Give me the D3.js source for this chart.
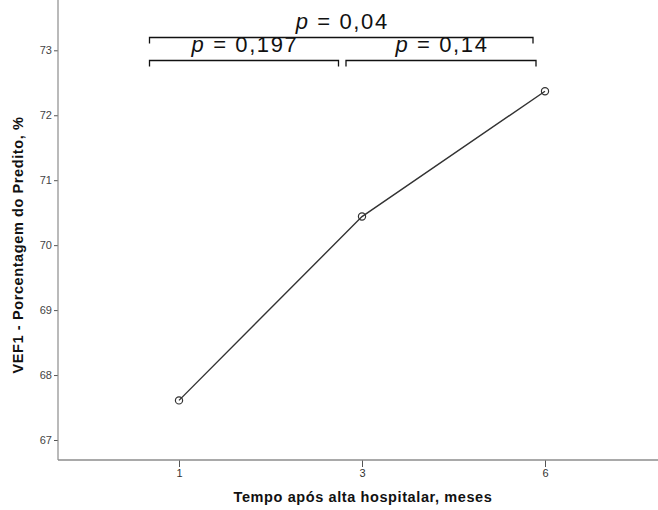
<!DOCTYPE html>
<html>
<head>
<meta charset="utf-8">
<script src="https://cdn.jsdelivr.net/npm/d3@7"></script>
<style>
  body { margin: 0; background: #fff; }
  svg { display: block; font-family: "Liberation Sans", Arial, sans-serif; }
</style>
</head>
<body>
<div id="graph"></div>
<script>
var months = ["1", "3", "6"]
var vef1 = [67.61, 70.44, 72.37]
var yTicks = [67, 68, 69, 70, 71, 72, 73]
// comparações: [de, até, p]
var comparisons = [["1", "6", "0,04"], ["1", "3", "0,197"], ["3", "6", "0,14"]]

var width = 658, height = 510
var svg = d3.select("#graph").append("svg")
            .attr("width", width).attr("height", height)

var x = d3.scalePoint().domain(months).range([179, 545])
var y = d3.scaleLinear().domain([67, 73]).range([440, 50.3])

var axisColor = "#8c8c8c"

// eixo y
var yAxis = svg.append("g").attr("transform", "translate(58,0)")
               .call(d3.axisLeft(y).tickValues(yTicks).tickSize(4).tickPadding(2).tickFormat(d3.format("d")))
yAxis.select(".domain").remove()
yAxis.append("line").attr("x1", 0).attr("x2", 0).attr("y1", 0).attr("y2", 460)
     .attr("stroke", axisColor).attr("stroke-width", 1.2)
yAxis.selectAll(".tick line").attr("stroke", "#555")
yAxis.selectAll(".tick text").attr("fill", "#444").style("font-size", "11px")

// eixo x
var xAxis = svg.append("g").attr("transform", "translate(0,460)")
               .call(d3.axisBottom(x).tickSize(7).tickPadding(2))
xAxis.select(".domain").remove()
xAxis.append("line").attr("x1", 58).attr("x2", width).attr("y1", 0).attr("y2", 0)
     .attr("stroke", axisColor).attr("stroke-width", 1.5)
xAxis.selectAll(".tick line").attr("stroke", "#555")
xAxis.selectAll(".tick text").attr("fill", "#333").style("font-size", "11px")

// títulos
svg.append("text").attr("x", 363).attr("y", 502).attr("text-anchor", "middle")
   .style("font-size", "14.5px").style("font-weight", "bold").style("letter-spacing", "0.6px").attr("fill", "#111")
   .text("Tempo após alta hospitalar, meses")
svg.append("text").attr("transform", "translate(23,245) rotate(-90)").attr("text-anchor", "middle")
   .style("font-size", "14.5px").style("font-weight", "bold").style("letter-spacing", "0.6px").attr("fill", "#111")
   .text("VEF1 - Porcentagem do Predito, %")

// linha e marcadores
var pts = months.map(function(m, i){ return {m: m, v: vef1[i]} })
svg.append("path").datum(pts)
   .attr("d", d3.line().x(function(d){ return x(d.m) }).y(function(d){ return y(d.v) }))
   .attr("fill", "none").attr("stroke", "#333").attr("stroke-width", 1.4)
svg.selectAll(".pt").data(pts).enter().append("circle").classed("pt", true)
   .attr("cx", function(d){ return x(d.m) }).attr("cy", function(d){ return y(d.v) })
   .attr("r", 3.6).attr("fill", "none").attr("stroke", "#333").attr("stroke-width", 1.2)

// chaves de significância
var brackets = [
  {x1: 149.5, x2: 533, y: 37.5, ty: 29},
  {x1: 149.5, x2: 338.5, y: 60.5, ty: 52},
  {x1: 346, x2: 536, y: 60.5, ty: 52}
]
comparisons.forEach(function(c, i){
  var b = brackets[i]
  svg.append("path")
     .attr("d", "M" + b.x1 + "," + (b.y + 6) + "V" + b.y + "H" + b.x2 + "V" + (b.y + 6))
     .attr("fill", "none").attr("stroke", "#111").attr("stroke-width", 1.3)
  var t = svg.append("text").attr("x", (b.x1 + b.x2) / 2 + 1).attr("y", b.ty)
             .attr("text-anchor", "middle").style("font-size", "22px").style("letter-spacing", "1.6px").attr("fill", "#111")
  t.append("tspan").style("font-style", "italic").text("p")
  t.append("tspan").text(" = " + c[2])
})
</script>
</body>
</html>
